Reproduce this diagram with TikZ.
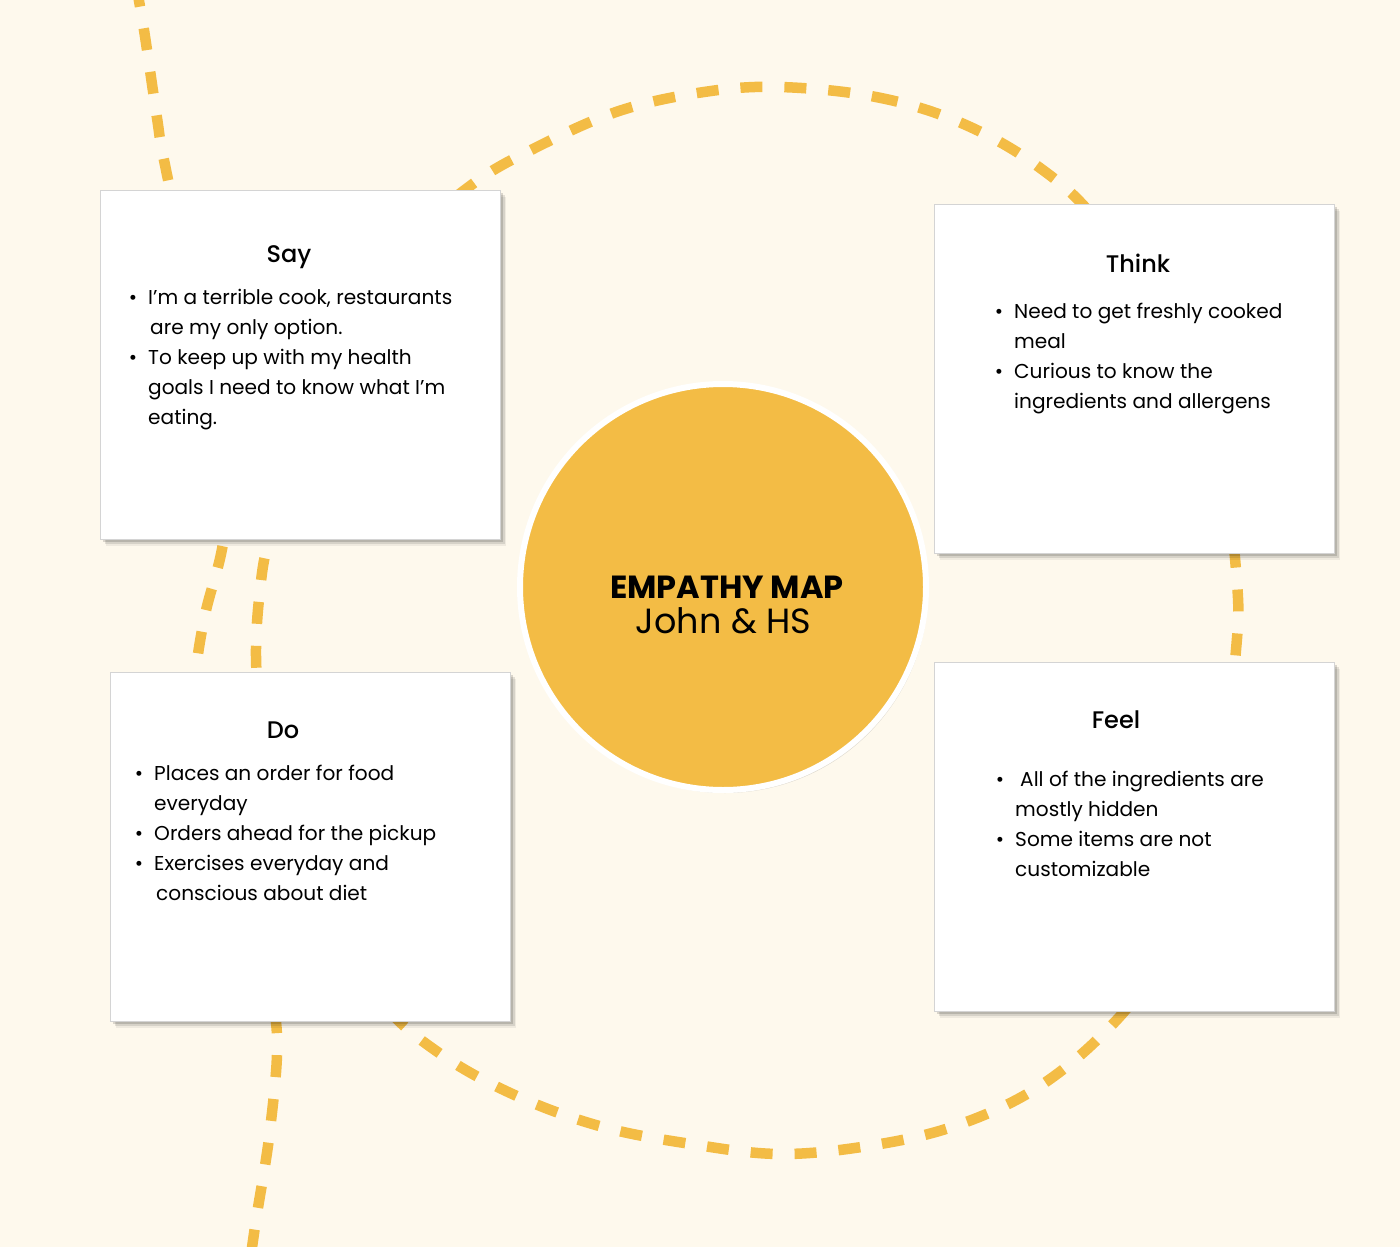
\documentclass[tikz,border=0pt]{standalone}
\usepackage{fontspec}
\setmainfont{Poppins}
\IfFontExistsTF{Poppins Medium}{\newfontfamily\titlefont{Poppins Medium}}{\newfontfamily\titlefont{Poppins}}
\IfFontExistsTF{Poppins Bold}{\newfontfamily\headfont{Poppins Bold}}{\newfontfamily\headfont{Poppins}[FakeBold=2]}
\usetikzlibrary{shadows}
\definecolor{bg}{HTML}{FEF9ED}
\definecolor{gold}{HTML}{F3BC45}
\definecolor{edge}{HTML}{D4D4D4}
\begin{document}
\begin{tikzpicture}[x=1pt,y=-1pt,
  dashline/.style={gold, line width=10.5pt, dash pattern=on 22pt off 22pt},
  card/.style={draw=edge, fill=white, line width=0.8pt, minimum width=400pt, minimum height=349pt, inner sep=0pt, anchor=north west,
    drop shadow={shadow xshift=6pt, shadow yshift=-7pt, opacity=0.06, fill=black},
    drop shadow={shadow xshift=4.5pt, shadow yshift=-5pt, opacity=0.10, fill=black},
    drop shadow={shadow xshift=2.5pt, shadow yshift=-3pt, opacity=0.14, fill=black}},
  ttl/.style={anchor=base, inner sep=0pt, font=\titlefont\fontsize{24}{30}\selectfont},
  ln/.style={anchor=base west, inner sep=0pt, font=\fontsize{20.1}{30}\selectfont},
  bul/.style={anchor=base, inner sep=0pt, font=\fontsize{20.1}{30}\selectfont}]
\useasboundingbox (0,0) rectangle (1400,1247);
\fill[bg] (0,0) rectangle (1400,1247);
\begin{scope}
\clip (0,0) rectangle (1400,1247);
% long wavy line on the left
\draw[dashline] plot[smooth, tension=0.6] coordinates {(136,-15) (144,30) (157,118) (165,165) (200,330) (232,470) (222,549) (205,615) (195,680) (192,760) (215,880) (262,975) (277,1035) (270,1130) (256,1220) (250,1262)};
% ring round the centre
\draw[dashline] plot[smooth cycle, tension=0.6] coordinates {(780,87) (876,97) (959,122) (1036,165) (1100,225) (1180,350) (1222,470) (1237,583) (1236,650) (1222,760) (1190,880) (1150,975) (1100,1037) (1032,1091) (952,1127) (868,1146) (779,1154) (691,1144) (603,1127) (519,1097) (442,1055) (380,1000) (320,900) (275,790) (257,680) (260,590) (275,520) (330,360) (400,250) (470,186) (535,148) (619,111) (704,92)};
\end{scope}
% centre
\node[circle, fill=gold, draw=white, line width=6pt, minimum size=406pt, inner sep=0pt,
  drop shadow={shadow xshift=2pt, shadow yshift=-3pt, opacity=0.12, fill=black}] (hub) at (723,587) {};
\node[anchor=base, inner sep=0pt, font=\headfont\fontsize{32}{36}\selectfont] (hubA) at (727,598) {EMPATHY MAP};
\node[anchor=base, inner sep=0pt, font=\fontsize{35}{40}\selectfont] (hubB) at (723.5,633) {John \& HS};
% cards
\node[card] (say) at (100,190) {};
\node[card] (think) at (934,204) {};
\node[card] (do) at (110,672) {};
\node[card] (feel) at (934,662) {};
% Say
\node[ttl] (sayT) at (289,262) {Say};
\node[bul] (sayB1) at (133,304) {\textbullet};
\node[ln] (sayL1) at (148,304) {I’m a terrible cook, restaurants};
\node[ln] (sayL2) at (150,334) {are my only option.};
\node[bul] (sayB2) at (133,364) {\textbullet};
\node[ln] (sayL3) at (148,364) {To keep up with my health};
\node[ln] (sayL4) at (148,394) {goals I need to know what I’m};
\node[ln] (sayL5) at (148,424) {eating.};
% Think
\node[ttl] (thT) at (1138,272) {Think};
\node[bul] (thB1) at (999,318) {\textbullet};
\node[ln] (thL1) at (1014,318) {Need to get freshly cooked};
\node[ln] (thL2) at (1014,348) {meal};
\node[bul] (thB2) at (999,378) {\textbullet};
\node[ln] (thL3) at (1014,378) {Curious to know the};
\node[ln] (thL4) at (1014,408) {ingredients and allergens};
% Do
\node[ttl] (doT) at (283,738) {Do};
\node[bul] (doB1) at (139,780) {\textbullet};
\node[ln] (doL1) at (154,780) {Places an order for food};
\node[ln] (doL2) at (154,810) {everyday};
\node[bul] (doB2) at (139,840) {\textbullet};
\node[ln] (doL3) at (154,840) {Orders ahead for the pickup};
\node[bul] (doB3) at (139,870) {\textbullet};
\node[ln] (doL4) at (154,870) {Exercises everyday and};
\node[ln] (doL5) at (156,900) {conscious about diet};
% Feel
\node[ttl] (feT) at (1116,728) {Feel};
\node[bul] (feB1) at (1000,786) {\textbullet};
\node[ln] (feL1) at (1020,786) {All of the ingredients are};
\node[ln] (feL2) at (1015,816) {mostly hidden};
\node[bul] (feB2) at (1000,846) {\textbullet};
\node[ln] (feL3) at (1015,846) {Some items are not};
\node[ln] (feL4) at (1015,876) {customizable};
\end{tikzpicture}
\end{document}
